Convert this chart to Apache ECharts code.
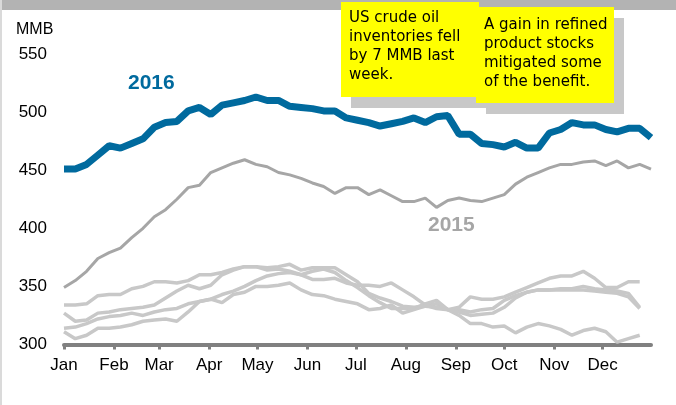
<!DOCTYPE html>
<html>
<head>
<meta charset="utf-8">
<script src="https://cdn.jsdelivr.net/npm/echarts@6/dist/echarts.min.js"></script>
<style>
html, body { margin: 0; padding: 0; background: #fff; }
#chart-container { width: 676px; height: 405px; }
</style>
</head>
<body>
<div id="chart-container"></div>
<script>
// month labels and the day of year each month starts on (axis runs in weeks)
var months = ['Jan', 'Feb', 'Mar', 'Apr', 'May', 'Jun', 'Jul', 'Aug', 'Sep', 'Oct', 'Nov', 'Dec'];
var monthStartDay = [0, 31, 59, 90, 120, 151, 181, 212, 243, 273, 304, 334];

// weekly US crude oil inventories, MMB
var y2016 = [451, 451, 455, 463, 471, 469, 473, 477, 487, 491, 492, 501, 504, 498, 506, 508, 510, 513, 510, 510,
	505, 504, 503, 501, 501, 495, 493, 491, 488, 490, 492, 495, 491, 496, 497, 481, 481, 473, 472, 470,
	474, 469, 469, 482, 485, 491, 489, 489, 485, 483, 486, 486, 478];
var y2015 = [349, 355, 363, 374, 379, 383, 392, 400, 410, 416, 425, 435, 437, 448, 452, 456, 459, 455, 453, 448,
	446, 443, 439, 436, 430, 435, 435, 429, 433, 428, 423, 423, 426, 418, 424, 426, 424, 423, 426, 429,
	438, 444, 448, 452, 455, 455, 457, 458, 454, 458, 452, 455, 451];
// earlier years (light grey)
var yearA = [334, 334, 335, 342, 343, 343, 348, 350, 354, 354, 353, 355, 360, 360, 362, 365, 367, 367,
	366, 367, 369, 364, 366, 366, 366, 360, 354, 344, 340, 337, 333, 332, 333, 335, 330,
	332, 341, 339, 339, 341, 345, 349, 353, 357, 359, 359, 363, 357, 349, 349, 354, 354];
var yearB = [327, 320, 321, 327, 328, 330, 331, 332, 334, 340, 346, 351, 348, 351, 360, 364, 367, 367,
	364, 365, 363, 360, 356, 356, 357, 353, 351, 351, 350, 353, 347, 341, 334, 331, 330,
	325, 318, 318, 315, 316, 310, 315, 318, 316, 313, 308, 312, 314, 311, 302, 305, 308];
var yearC = [314, 315, 318, 322, 324, 325, 327, 325, 328, 330, 331, 335, 337, 339, 343, 346, 350, 355,
	359, 361, 362, 360, 363, 365, 362, 355, 349, 342, 336, 331, 331, 331, 335, 338, 330,
	330, 328, 330, 331, 338, 342, 345, 347, 347, 348, 348, 350, 348, 347, 346, 344, 332];
var yearD = [311, 305, 308, 314, 314, 315, 317, 320, 321, 322, 320, 328, 337, 339, 336, 343, 345, 350,
	350, 351, 353, 347, 343, 342, 339, 337, 335, 330, 331, 334, 327, 330, 333, 332, 330,
	328, 325, 326, 327, 332, 340, 345, 347, 347, 347, 347, 347, 346, 345, 344, 341, 331];

var yTicks = [300, 350, 400, 450, 500, 550];

var dom = document.getElementById('chart-container');
var myChart = echarts.init(dom, null, { renderer: 'canvas' });

var monthTicks = monthStartDay.map(function (d) { return d / 7; });

function weekly(arr) {
	return arr.map(function (v, i) { return [i, v]; });
}

function greyLine(name, arr) {
	return {
		name: name,
		type: 'line',
		data: weekly(arr),
		showSymbol: false,
		silent: true,
		lineStyle: { color: '#c8c8c8', width: 3.5 },
		z: 2
	};
}

var axisFont = 'Liberation Sans, Arial, sans-serif';
var noteFont = '"Comic Sans MS", "DejaVu Sans", sans-serif';

var option = {
	animation: false,
	textStyle: { fontFamily: axisFont },
	grid: { left: 64, right: 25, top: 54, bottom: 60.5 },
	xAxis: {
		type: 'value',
		min: 0,
		max: 52,
		axisLine: { show: true, lineStyle: { color: '#808080', width: 4, cap: 'round' } },
		axisTick: {
			show: true,
			customValues: monthTicks,
			length: 5,
			lineStyle: { color: '#808080', width: 3 }
		},
		axisLabel: {
			customValues: monthTicks,
			margin: 12,
			fontSize: 17,
			color: '#000',
			fontFamily: axisFont,
			formatter: function (v) {
				for (var k = 0; k < monthTicks.length; k++) {
					if (Math.abs(monthTicks[k] - v) < 0.01) return months[k];
				}
				return '';
			}
		},
		splitLine: { show: false }
	},
	yAxis: {
		type: 'value',
		min: yTicks[0],
		max: yTicks[yTicks.length - 1],
		interval: 50,
		axisLine: { show: false },
		axisTick: { show: false },
		splitLine: { show: false },
		axisLabel: { margin: 17, fontSize: 17, color: '#000', fontFamily: axisFont }
	},
	graphic: [
		{ type: 'rect', shape: { x: 0, y: 0, width: 676, height: 10 }, style: { fill: '#b3b3b3' }, z: 50 },
		{ type: 'rect', shape: { x: 0, y: 0, width: 2, height: 405 }, style: { fill: '#dadada' }, z: 50 },
		{ type: 'text', left: 16, top: 22, style: { text: 'MMB', font: '16px ' + axisFont, fill: '#000' } },
		{ type: 'text', left: 128, top: 73, style: { text: '2016', font: 'bold 21px ' + axisFont, fill: '#006a9e' } },
		{ type: 'text', left: 428, top: 215, style: { text: '2015', font: 'bold 21px ' + axisFont, fill: '#a6a6a6' } },
		// note 1
		{ type: 'rect', shape: { x: 351, y: 13, width: 138, height: 95 }, style: { fill: '#c8c8c8' }, z: 60 },
		{ type: 'rect', shape: { x: 341, y: 2, width: 138, height: 95 }, style: { fill: '#ffff00' }, z: 61 },
		{
			type: 'text', x: 349, y: 9, z: 62,
			style: {
				text: 'US crude oil\ninventories fell\nby 7 MMB last\nweek.',
				font: '15px ' + noteFont, lineHeight: 19, fill: '#000'
			}
		},
		// note 2
		{ type: 'rect', shape: { x: 486, y: 18, width: 138, height: 96 }, style: { fill: '#c8c8c8' }, z: 63 },
		{ type: 'rect', shape: { x: 476, y: 7, width: 138, height: 96 }, style: { fill: '#ffff00' }, z: 64 },
		{
			type: 'text', x: 484, y: 16, z: 65,
			style: {
				text: 'A gain in refined\nproduct stocks\nmitigated some\nof the benefit.',
				font: '15px ' + noteFont, lineHeight: 19, fill: '#000'
			}
		}
	],
	series: [
		greyLine('A', yearA),
		greyLine('B', yearB),
		greyLine('C', yearC),
		greyLine('D', yearD),
		{
			name: '2015',
			type: 'line',
			data: weekly(y2015),
			showSymbol: false,
			lineStyle: { color: '#a6a6a6', width: 3 },
			z: 3
		},
		{
			name: '2016',
			type: 'line',
			data: weekly(y2016),
			showSymbol: false,
			lineStyle: { color: '#006a9e', width: 7 },
			z: 4
		}
	]
};

myChart.setOption(option);
window.addEventListener('resize', myChart.resize);
</script>
</body>
</html>
